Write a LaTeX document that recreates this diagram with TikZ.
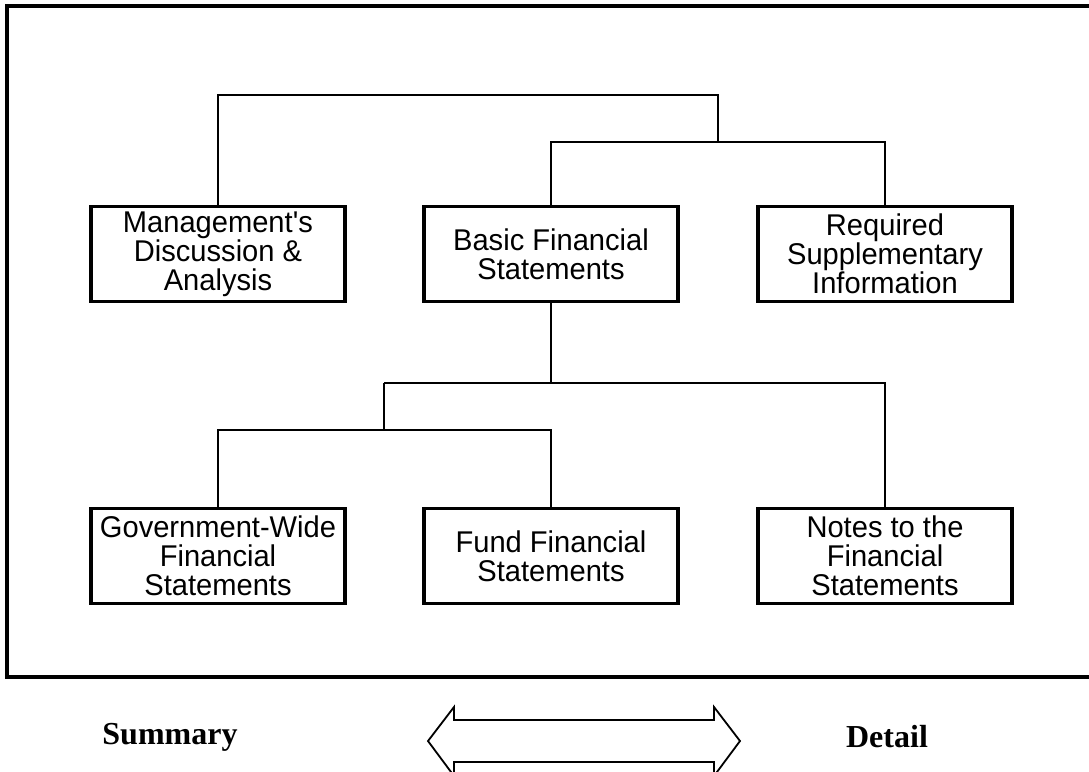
\documentclass[tikz,border=0pt]{standalone}
\usepackage{fontspec}
\setmainfont{Liberation Sans}
\newfontfamily\boxfont[FakeStretch=0.97]{Liberation Sans}
\newfontfamily\labelfont{Liberation Serif}
\usetikzlibrary{positioning}
\tikzset{statebox/.style={
            draw,
            line width=3.2pt,
            align=center,
            inner sep=0pt,
            minimum width=254pt,
            minimum height=95pt,
            font=\boxfont\fontsize{30}{29}\selectfont
        },
        link/.style={
            line width=2.8pt
        },
        frame/.style={
            line width=3.6pt
        },
        endlabel/.style={
            font=\labelfont\bfseries\fontsize{32}{36}\selectfont
        },
        spanarrow/.style={
            line width=1.8pt,
            fill=white
        }
    }
\begin{document}
\begin{tikzpicture}[x=1pt,y=-1pt,line join=miter]
\useasboundingbox (0,0) rectangle (1089,771);
\draw[frame] (1100,6)--(7,6)--(7,677)--(1100,677);
% top row
\node[statebox] (mda) at (218,254) {Management\textquotesingle s\\Discussion \&\\Analysis};
\node[statebox] (bfs) at (551,254) {Basic Financial\\Statements};
\node[statebox] (rsi) at (885,254) {Required\\Supplementary\\Information};
% bottom row
\node[statebox] (gwfs) at (218,556) {Government-Wide\\Financial\\Statements};
\node[statebox] (ffs) at (551,556) {Fund Financial\\Statements};
\node[statebox] (notes) at (885,556) {Notes to the\\Financial\\Statements};
% connectors
\coordinate (join1) at (718,142);
\coordinate (join2) at (384,383);
\coordinate (join3) at (384,430);
\draw[link] (mda.north) |- (718,95) -- (join1);
\draw[link] (bfs.north) |- (join1) -| (rsi.north);
\draw[link] (bfs.south) -- (bfs.south |- join2);
\draw[link] (join2) -| (notes.north);
\draw[link] (join2) -- (join3);
\draw[link] (gwfs.north) |- (join3) -| (ffs.north);
% summary to detail
\node[endlabel] (summary) at (170,737) {Summary};
\node[endlabel] (detail) at (887,737) {Detail};
\draw[spanarrow] (428,741)--(454,707)--(454,720)--(714,720)--(714,707)--(740,741)--(714,776)--(714,762)--(454,762)--(454,776)--cycle;
\end{tikzpicture}
\end{document}
